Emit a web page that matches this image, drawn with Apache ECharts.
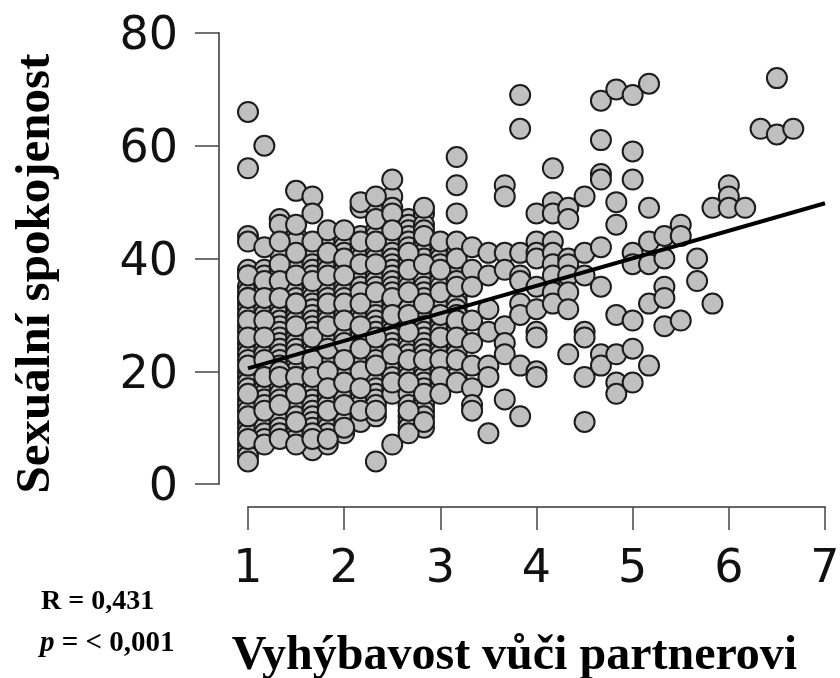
<!DOCTYPE html>
<html><head><meta charset="utf-8">
<style>html,body{margin:0;padding:0;background:#fff}#c{width:840px;height:678px}</style>
<script src="https://cdn.jsdelivr.net/npm/echarts@6/dist/echarts.min.js"></script>
</head><body><div id="c"></div>
<script>
const xSteps=[1,1.17,1.33,1.5,1.67,1.83,2,2.17,2.33,2.5,2.67,2.83,3,3.17,3.33,3.5,3.67,3.83,4,4.17,4.33,4.5,4.67,4.83,5,5.17,5.33,5.5,5.67,5.83,6,6.17,6.33,6.5,6.67];
// dense, mostly hidden layer: one list of y per x step
const back0=[66,56,44,38,37,35,34,33,32,31,30,28,27,25,24,23,22,20,19,18,17,15,14,13,11,10,9,7,6,5];
const back1=[60,38,37,35,34,32,31,30,28,27,25,24,23,21,20,18,17,16,15,14,12,11,10,9,8];
const back2=[47,41,38,37,35,34,32,31,30,29,28,27,26,25,24,23,22,21,18,17,16,15,13,12,11,10,9];
const back3=[44,43,39,38,36,35,33,32,31,30,29,27,26,25,24,22,21,20,19,18,17,15,14,13,12,10,9,8];
const back4=[42,41,40,39,38,37,35,34,33,32,31,30,29,28,27,25,24,23,21,20,18,17,16,15,14,13,12,11,10,7,6];
const back5=[44,43,42,40,39,38,36,35,34,33,31,30,29,27,26,25,23,22,21,19,18,16,15,14,12,11,10,9,7];
const back6=[44,43,42,41,39,38,36,35,34,33,31,30,28,27,26,24,23,21,20,19,17,16,15,13,12,11,9];
const back7=[49,44,42,41,40,38,37,36,35,33,31,30,29,27,26,25,23,22,21,19,18,16,15,14,12,11];
const back8=[50,49,45,44,42,41,40,38,37,36,35,33,32,31,30,29,28,27,25,24,23,22,20,19,18,17,16,15,14,12];
const back9=[51,49,47,46,44,43,42,41,40,39,38,37,36,35,34,32,31,29,28,27,26,25,24,22,21,20,19,17,16];
const back10=[47,46,45,44,43,42,40,39,37,36,35,33,32,31,29,28,26,25,24,23,21,20,19,17,16,14,12,11,10];
const back11=[48,46,45,43,42,41,40,38,37,36,35,34,33,31,30,29,28,27,26,25,24,23,21,20,19,18,17,15,14,13,12,10];
const back12=[42,41,40,39,37,36,35,33,32,31,29,28,27,25,24,23,21,20,18,17];
const back13=[41,39,38,37,36,34,33,32,31,30,28,27,25,24,23,21,20,19];
// visible upper layer
const front0=[43,37,33,29,26,21,16,12,8,4];
const front1=[42,36,33,29,26,22,19,13,7];
const front2=[46,43,39,36,33,20,19,14,8];
const front3=[52,46,41,37,32,28,23,19,16,11,7];
const front4=[51,48,43,36,26,22,19,9,8];
const front5=[45,41,37,32,28,24,20,17,13,8];
const front6=[45,40,37,32,29,25,22,18,14,10];
const front7=[50,43,39,34,32,28,24,20,17,13];
const front8=[51,47,43,39,34,26,21,13,4];
const front9=[54,48,45,33,30,23,18,7];
const front10=[41,38,34,30,27,22,18,13,9];
const front11=[49,44,39,32,22,16,11];
const front12=[43,38,34,30,26,22,19,16];
const front13=[58,53,48,43,40,35,29,26,22,18];
// sparse right part
const col14=[42,38,35,29,25,21,17,14,13];
const col15=[41,37,31,27,21,19,9];
const col16=[53,51,41,38,28,25,23,15];
const col17=[69,63,41,37,36,32,30,21,12];
const col18=[48,43,41,40,35,31,27,26,20,19];
const col19=[56,50,48,43,41,39,37,34,32];
const col20=[49,47,40,39,37,34,31,23];
const col21=[51,41,37,27,26,19,11];
const col22=[68,61,55,54,42,35,23,21];
const col23=[70,50,46,30,23,18,16];
const col24=[69,59,54,41,39,29,24,18];
const col25=[71,49,43,39,32,21];
const col26=[44,40,35,33,28];
const col27=[46,44,29];
const col28=[40,36];
const col29=[49,32];
const col30=[53,51,49];
const col31=[49];
const col32=[63];
const col33=[72,62];
const col34=[63];
const fitLine=[[1,20.5],[7,49.8]];
const xName='Vyhýbavost vůči partnerovi';
const yName='Sexuální spokojenost';

const layers=[
 [back0,back1,back2,back3,back4,back5,back6,back7,back8,back9,back10,back11,back12,back13],
 [front0,front1,front2,front3,front4,front5,front6,front7,front8,front9,front10,front11,front12,front13,
  col14,col15,col16,col17,col18,col19,col20,col21,col22,col23,col24,col25,col26,col27,col28,col29,col30,col31,col32,col33,col34]
];
const points=[];
layers.forEach(l=>l.forEach((ys,k)=>ys.forEach(y=>points.push([xSteps[k],y]))));

const chart=echarts.init(document.getElementById('c'),null,{renderer:'canvas'});
const axisGrey='#666';
chart.setOption({
 animation:false,
 backgroundColor:'#fff',
 grid:{left:248,right:15,top:33,bottom:194,containLabel:false,outerBoundsMode:'none'},
 xAxis:{type:'value',min:1,max:7,interval:1,offset:23,
  axisLine:{show:true,onZero:false,lineStyle:{color:axisGrey,width:2}},
  axisTick:{show:true,length:23,lineStyle:{color:'#444',width:1.5}},
  splitLine:{show:false},
  axisLabel:{fontFamily:'DejaVu Sans',fontSize:46,color:'#111',margin:40,hideOverlap:false,showMaxLabel:true,showMinLabel:true},
  name:xName,nameLocation:'middle',nameGap:126,
  nameTextStyle:{fontFamily:'Liberation Serif',fontWeight:'bold',fontSize:48,color:'#000',padding:[0,44,0,0]}},
 yAxis:{type:'value',min:0,max:80,interval:20,offset:29,
  axisLine:{show:true,onZero:false,lineStyle:{color:axisGrey,width:2}},
  axisTick:{show:true,length:24,lineStyle:{color:'#444',width:1.5}},
  splitLine:{show:false},
  axisLabel:{fontFamily:'DejaVu Sans',fontSize:46,color:'#111',margin:41,
   formatter:v=>'{v|'+v+'}',
   rich:{v:{fontFamily:'DejaVu Sans',fontSize:46,color:'#111',padding:[9,0,0,0]}}},
  name:yName,nameLocation:'middle',nameGap:158,nameRotate:90,
  nameTextStyle:{fontFamily:'Liberation Serif',fontWeight:'bold',fontSize:49,color:'#000',padding:[0,30,0,0]}},
 graphic:[
  {type:'text',left:41,top:588,style:{text:'R = 0,431',fontFamily:'Liberation Serif',fontWeight:'bold',fontSize:28,fill:'#000'}},
  {type:'text',left:40,top:629,style:{text:'{i|p} = < 0,001',fontFamily:'Liberation Serif',fontWeight:'bold',fontSize:29,fill:'#000',
    rich:{i:{fontFamily:'Liberation Serif',fontWeight:'bold',fontStyle:'italic',fontSize:29,fill:'#000'}}}}
 ],
 series:[
  {type:'scatter',data:points,symbol:'circle',symbolSize:20,clip:false,
   itemStyle:{color:'#c0c0c0',borderColor:'#1c1c1c',borderWidth:2,opacity:1},z:2},
  {type:'line',data:fitLine,symbol:'none',clip:false,lineStyle:{color:'#000',width:4},z:3}
 ]
});
</script></body></html>
